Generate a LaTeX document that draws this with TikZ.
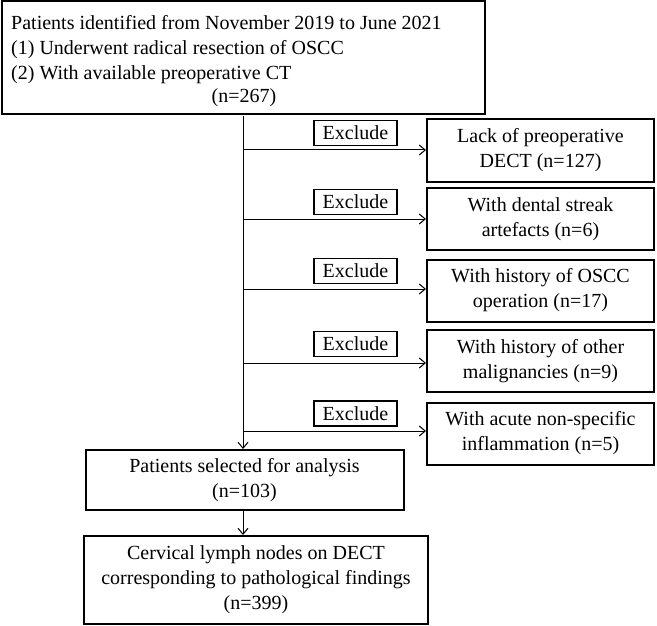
\documentclass[tikz,border=0pt]{standalone}
\usepackage{fontspec}
\setmainfont{Liberation Serif}
\usetikzlibrary{arrows.meta}
\begin{document}
\begin{tikzpicture}[x=1pt,y=-1pt,
  box/.style={draw,line width=2pt,inner sep=0pt,align=center,font=\fontsize{20}{25}\selectfont},
  exbox/.style={draw,line width=1.6pt,inner sep=0pt,font=\fontsize{20}{24}\selectfont},
  conn/.style={line width=1pt,-{Straight Barb[length=6pt,width=10pt]}}]
\useasboundingbox (0,0) rectangle (657,626);
% top box
\node[box,minimum width=483pt,minimum height=113pt] (top) at (243.5,58) {};
\node[anchor=west,align=left,font=\fontsize{20}{25}\selectfont,inner sep=0pt] (toptxt) at (11,50)
  {Patients identified from November 2019 to June 2021\\(1) Underwent radical resection of OSCC\\(2) With available preoperative CT};
\node[font=\fontsize{20}{25}\selectfont,inner sep=0pt] (n267) at (244,98) {(n=267)};
% exclusion boxes
\foreach \i/\t/\yb/\ye/\yl in {1/{Lack of preoperative\\DECT (n=127)}/150.5/133/150,
  2/{With dental streak\\artefacts (n=6)}/219/202/219,
  3/{With history of OSCC\\operation (n=17)}/290.5/271/289,
  4/{With history of other\\malignancies (n=9)}/361/344/363,
  5/{With acute non-specific\\inflammation (n=5)}/433.5/413.5/431}{
  \node[box,minimum width=227pt,minimum height=62pt] (r\i) at (540.5,\yb) {\t};
  \node[exbox,minimum width=83pt,minimum height=25pt] (e\i) at (355.5,\ye) {Exclude};
  \coordinate (b\i) at (243,\yl);
  \draw[conn] (b\i) -- (b\i -| r\i.west);
}
% selected
\node[box,minimum width=318pt,minimum height=60pt] (sel) at (244.5,480) {Patients selected for analysis\\(n=103)};
\node[box,minimum width=344pt,minimum height=88pt] (fin) at (256,580) {Cervical lymph nodes on DECT\\corresponding to pathological findings\\(n=399)};
\coordinate (vtop) at (243,116);
\draw[conn] (vtop) -- (vtop |- sel.north);
\draw[conn] (sel.south -| vtop) -- (fin.north -| vtop);
\end{tikzpicture}
\end{document}
